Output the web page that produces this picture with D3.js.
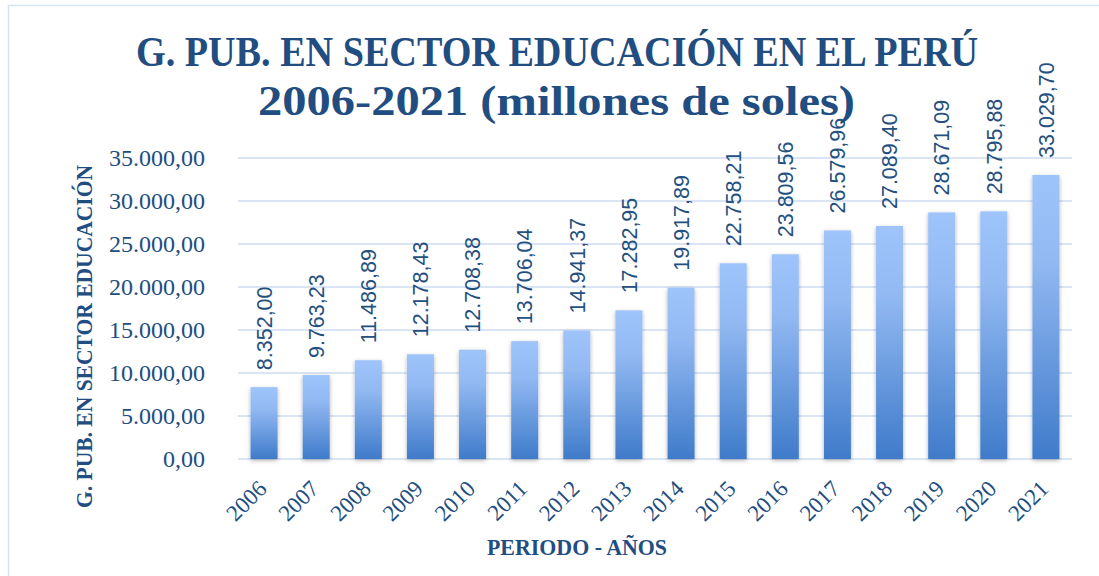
<!DOCTYPE html>
<html>
<head>
<meta charset="utf-8">
<script src="https://cdn.jsdelivr.net/npm/d3@7"></script>
<style>
  body { margin: 0; background: #fff; }
  svg { display: block; }
</style>
</head>
<body>
<div id="chart"></div>
<script>
// data
var years = ["2006", "2007", "2008", "2009", "2010", "2011", "2012", "2013",
             "2014", "2015", "2016", "2017", "2018", "2019", "2020", "2021"];
var gasto = [8352.00, 9763.23, 11486.89, 12178.43, 12708.38, 13706.04, 14941.37, 17282.95,
             19917.89, 22758.21, 23809.56, 26579.96, 27089.40, 28671.09, 28795.88, 33029.70];
var yTicks = [0, 5000, 10000, 15000, 20000, 25000, 30000, 35000];

var titleLines = ["G. PUB. EN SECTOR EDUCACIÓN EN EL PERÚ", "2006-2021 (millones de soles)"];
var yTitle = "G. PUB. EN SECTOR EDUCACIÓN";
var xTitle = "PERIODO - AÑOS";

var W = 1099, H = 576,
    margin = {top: 158, right: 27, bottom: 117, left: 238},
    dark = "#214D80",
    serif = "'Liberation Serif', 'Times New Roman', serif",
    sans = "'Liberation Sans', Arial, sans-serif";

var es = d3.formatLocale({decimal: ",", thousands: ".", grouping: [3], currency: ["", ""]});
var fmt = es.format(",.2f");

var data = years.map(function(y, i) { return {year: y, value: gasto[i]}; });

var svg = d3.select("#chart").append("svg")
    .attr("width", W)
    .attr("height", H);

var defs = svg.append("defs");

var grad = defs.append("linearGradient")
    .attr("id", "barGrad")
    .attr("x1", 0).attr("y1", 0).attr("x2", 0).attr("y2", 1);
grad.append("stop").attr("offset", "0%").attr("stop-color", "#9EC4FB");
grad.append("stop").attr("offset", "30%").attr("stop-color", "#92B9F2");
grad.append("stop").attr("offset", "100%").attr("stop-color", "#3F7BCA");

var shadow = defs.append("filter")
    .attr("id", "shadow")
    .attr("x", "-30%").attr("y", "-10%")
    .attr("width", "160%").attr("height", "130%");
shadow.append("feDropShadow")
    .attr("dx", 0).attr("dy", 1.5)
    .attr("stdDeviation", 2)
    .attr("flood-color", "#000")
    .attr("flood-opacity", 0.3);

// outer frame, runs off the right and bottom edges
svg.append("rect")
    .attr("x", 8.5).attr("y", 5.5)
    .attr("width", 1200).attr("height", 700)
    .attr("fill", "none")
    .attr("stroke", "#D5E2F4")
    .attr("stroke-width", 1.5);

var x = d3.scaleBand()
    .domain(years)
    .range([margin.left, W - margin.right])
    .paddingInner(0.482)
    .paddingOuter(0.241);

var y = d3.scaleLinear()
    .domain([0, 35000])
    .range([H - margin.bottom, margin.top]);

// gridlines
svg.append("g")
  .selectAll("line")
  .data(yTicks)
  .enter().append("line")
    .attr("x1", margin.left)
    .attr("x2", W - margin.right)
    .attr("y1", function(d) { return y(d); })
    .attr("y2", function(d) { return y(d); })
    .attr("stroke", "#D9E4F4")
    .attr("stroke-width", 2);

// y tick labels
svg.append("g")
  .selectAll("text")
  .data(yTicks)
  .enter().append("text")
    .attr("x", 205)
    .attr("y", function(d) { return y(d); })
    .attr("dy", "0.34em")
    .attr("text-anchor", "end")
    .attr("font-family", serif)
    .attr("font-size", 24)
    .attr("fill", dark)
    .text(function(d) { return fmt(d); });

// bars
svg.append("g")
  .selectAll("rect")
  .data(data)
  .enter().append("rect")
    .attr("x", function(d) { return x(d.year); })
    .attr("y", function(d) { return y(d.value); })
    .attr("width", x.bandwidth())
    .attr("height", function(d) { return y(0) - y(d.value); })
    .attr("fill", "url(#barGrad)")
    .attr("filter", "url(#shadow)");

// value labels
svg.append("g")
  .selectAll("text")
  .data(data)
  .enter().append("text")
    .attr("transform", function(d) {
      return "translate(" + (x(d.year) + x.bandwidth() / 2) + "," + (y(d.value) - 17) + ") rotate(-90)";
    })
    .attr("dy", "0.36em")
    .attr("text-anchor", "start")
    .attr("font-family", sans)
    .attr("font-size", 21.5)
    .attr("fill", "#24507F")
    .text(function(d) { return fmt(d.value); });

// x tick labels
svg.append("g")
  .selectAll("text")
  .data(years)
  .enter().append("text")
    .attr("transform", function(d) {
      return "translate(" + (x(d) + x.bandwidth() / 2 + 4) + ",490) rotate(-45)";
    })
    .attr("text-anchor", "end")
    .attr("font-family", serif)
    .attr("font-size", 23)
    .attr("fill", dark)
    .text(function(d) { return d; });

// title
svg.append("text")
    .attr("x", 136).attr("y", 66)
    .attr("textLength", 842)
    .attr("lengthAdjust", "spacingAndGlyphs")
    .attr("font-family", serif)
    .attr("font-weight", "bold")
    .attr("font-size", 43)
    .attr("fill", dark)
    .text(titleLines[0]);

svg.append("text")
    .attr("x", 258).attr("y", 115)
    .attr("textLength", 597)
    .attr("lengthAdjust", "spacingAndGlyphs")
    .attr("font-family", serif)
    .attr("font-weight", "bold")
    .attr("font-size", 43)
    .attr("fill", dark)
    .text(titleLines[1]);

// axis titles
svg.append("text")
    .attr("transform", "translate(92,508) rotate(-90)")
    .attr("textLength", 343)
    .attr("lengthAdjust", "spacingAndGlyphs")
    .attr("font-family", serif)
    .attr("font-weight", "bold")
    .attr("font-size", 23)
    .attr("fill", dark)
    .text(yTitle);

svg.append("text")
    .attr("x", 487).attr("y", 555)
    .attr("textLength", 180)
    .attr("lengthAdjust", "spacingAndGlyphs")
    .attr("font-family", serif)
    .attr("font-weight", "bold")
    .attr("font-size", 23)
    .attr("fill", dark)
    .text(xTitle);
</script>
</body>
</html>
